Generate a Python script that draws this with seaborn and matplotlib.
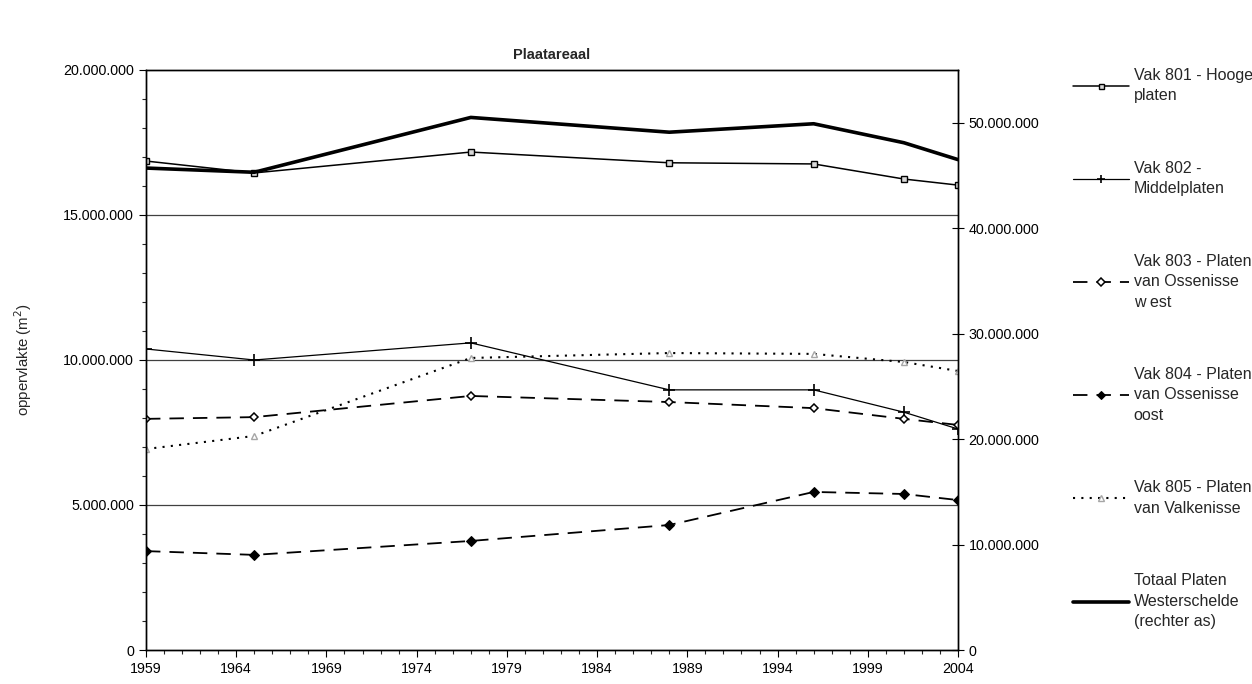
import pandas as pd
import matplotlib
matplotlib.use("Agg")
import matplotlib.pyplot as plt
import matplotlib.ticker as mticker
import seaborn as sns

# data (m2)
years = [1959, 1965, 1977, 1988, 1996, 2001, 2004]
vak801 = [16860000, 16450000, 17170000, 16800000, 16760000, 16240000, 16030000]
vak802 = [10380000, 10000000, 10590000, 8970000, 8970000, 8200000, 7620000]
vak803 = [7970000, 8030000, 8760000, 8550000, 8340000, 7970000, 7760000]
vak804 = [3410000, 3280000, 3760000, 4310000, 5450000, 5380000, 5170000]
vak805 = [6930000, 7380000, 10070000, 10240000, 10210000, 9930000, 9620000]
totaal = [45700000, 45300000, 50500000, 49100000, 49900000, 48100000, 46500000]

labels = [
    "Vak 801 - Hooge\nplaten",
    "Vak 802 -\nMiddelplaten",
    "Vak 803 - Platen\nvan Ossenisse\nw est",
    "Vak 804 - Platen\nvan Ossenisse\noost",
    "Vak 805 - Platen\nvan Valkenisse",
    "Totaal Platen\nWesterschelde\n(rechter as)",
]

sns.set_style("white")
plt.rcParams["font.family"] = ["Liberation Sans", "DejaVu Sans"]


def dotted_fmt(v, pos):
    return f"{v:,.0f}".replace(",", ".")


df = pd.DataFrame({"jaar": years, "801": vak801, "802": vak802, "803": vak803,
                   "804": vak804, "805": vak805, "tot": totaal})

fig = plt.figure(figsize=(12.52, 6.84), dpi=100)
ax = fig.add_axes([0.1166, 0.0497, 0.6486, 0.848])

styles = [
    ("801", dict(color="black", lw=1.1, ls="-", marker="s", ms=4.5, mfc="#d9d9d9", mec="black", mew=1)),
    ("802", dict(color="black", lw=0.9, ls="-", marker="+", ms=8, mec="black", mew=1.2)),
    ("803", dict(color="black", lw=1.3, ls=(0, (8, 5)), marker="D", ms=4.5, mfc="white", mec="black", mew=1.1)),
    ("804", dict(color="black", lw=1.3, ls=(0, (8, 5)), marker="D", ms=5, mfc="black", mec="black")),
    ("805", dict(color="black", lw=1.5, ls=(0, (1, 3)), marker="^", ms=5, mfc="white", mec="#a6a6a6", mew=1)),
]

handles = []
for col, kw in styles:
    sns.lineplot(data=df, x="jaar", y=col, ax=ax, legend=False, **kw)
    handles.append(ax.lines[-1])

ax.set_xlim(1959, 2004)
ax.set_ylim(0, 20000000)
ax.xaxis.set_major_locator(mticker.FixedLocator(range(1959, 2005, 5)))
ax.xaxis.set_minor_locator(mticker.MultipleLocator(1))
ax.yaxis.set_major_locator(mticker.MultipleLocator(5000000))
ax.yaxis.set_minor_locator(mticker.MultipleLocator(1000000))
ax.yaxis.set_major_formatter(mticker.FuncFormatter(dotted_fmt))
ax.tick_params(axis="both", which="major", direction="out", length=5, width=0.8,
               labelsize=10.3, colors="black", left=True, bottom=True)
ax.tick_params(axis="both", which="minor", direction="out", length=3, width=0.8,
               left=True, bottom=True)
ax.set_xlabel("")
ax.set_ylabel("oppervlakte (m$^2$)", fontsize=10.8, labelpad=21)
for yv in [5000000, 10000000, 15000000]:
    ax.axhline(yv, color="#404040", lw=0.9, zorder=0)
for sp in ax.spines.values():
    sp.set_color("black")
    sp.set_linewidth(1)

ax2 = ax.twinx()
sns.lineplot(data=df, x="jaar", y="tot", ax=ax2, color="black", lw=2.6, legend=False)
handles.append(ax2.lines[-1])
ax2.set_ylim(0, 55000000)
ax2.yaxis.set_major_locator(mticker.MultipleLocator(10000000))
ax2.yaxis.set_major_formatter(mticker.FuncFormatter(dotted_fmt))
ax2.tick_params(axis="y", direction="inout", length=8, width=0.8, labelsize=10.3,
                right=True, colors="black")
ax2.set_ylabel("")
ax2.set_xlim(1959, 2004)
for sp in ax2.spines.values():
    sp.set_color("black")
    sp.set_linewidth(1)

ax.set_title("Plaatareaal", fontsize=10.5, fontweight="bold", pad=8)

leg = fig.legend(handles, labels, loc="upper left", bbox_to_anchor=(0.852, 0.91),
                 frameon=False, fontsize=11.5, handlelength=3.5, handletextpad=0.3,
                 labelspacing=3.6, borderaxespad=0, markerscale=0.8)
for t in leg.get_texts():
    t.set_linespacing(1.45)

fig.savefig("out.png", dpi=100)
plt.close(fig)
